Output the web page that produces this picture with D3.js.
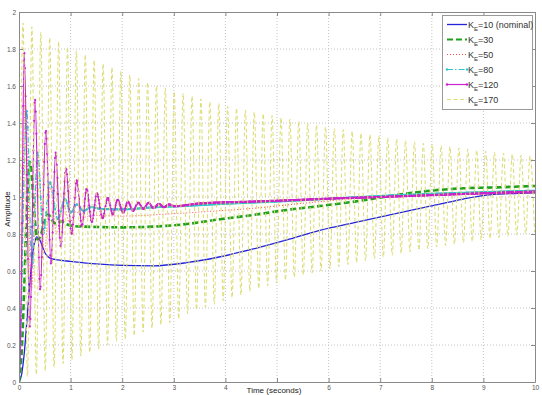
<!DOCTYPE html>
<html lang="en">
  <head>
    <meta charset="utf-8">
    <script src="https://d3js.org/d3.v7.min.js"></script>
    <style>
      body { margin: 0; background: white; }
      text { font-family: "Liberation Sans", Arial, sans-serif; }
    </style>
  </head>
  <body>
    <script>

    // Axis ticks and legend labels
    var timeTicks = [0, 1, 2, 3, 4, 5, 6, 7, 8, 9, 10];
    var ampTicks = [0, 0.2, 0.4, 0.6, 0.8, 1, 1.2, 1.4, 1.6, 1.8, 2];
    var legendLabels = ["=10 (nominal)", "=30", "=50", "=80", "=120", "=170"];

    // K_E = 10 (nominal)
    var k10Time = [0, 0.05, 0.1, 0.15, 0.2, 0.25, 0.3, 0.34, 0.4, 0.5, 0.6, 0.75, 1.0, 1.5, 2.0, 2.6, 3.25, 3.9, 4.54, 5.19, 5.83, 6.5, 7.32, 7.97, 8.61, 9.06, 9.5, 10];
    var k10Amp = [0, 0.04, 0.15, 0.32, 0.5, 0.66, 0.75, 0.785, 0.77, 0.7, 0.67, 0.66, 0.652, 0.638, 0.63, 0.628, 0.645, 0.677, 0.719, 0.768, 0.82, 0.862, 0.912, 0.951, 0.989, 1.01, 1.018, 1.023];

    // K_E = 30
    var k30Time = [0, 0.05, 0.1, 0.15, 0.21, 0.25, 0.3, 0.36, 0.43, 0.5, 0.57, 0.65, 0.73, 0.82, 0.9, 1.1, 1.5, 2.0, 2.6, 3.25, 3.9, 4.54, 5.19, 5.83, 6.5, 7.32, 7.97, 8.61, 9.26, 10];
    var k30Amp = [0, 0.15, 0.5, 0.92, 1.19, 1.1, 0.9, 0.77, 0.8, 0.88, 0.905, 0.87, 0.855, 0.868, 0.855, 0.842, 0.838, 0.836, 0.84, 0.854, 0.88, 0.903, 0.93, 0.951, 0.975, 1.011, 1.034, 1.047, 1.052, 1.06];

    // K_E = 50
    var k50Time = [0, 0.05, 0.12, 0.24, 0.37, 0.49, 0.61, 0.73, 0.86, 0.98, 1.1, 1.25, 1.4, 2.0, 3.0, 4.0, 4.54, 5.19, 5.83, 6.5, 7.3, 8.0, 9.0, 10];
    var k50Amp = [0, 0.5, 1.5, 0.5, 1.22, 0.7, 1.05, 0.8, 0.96, 0.86, 0.92, 0.89, 0.9, 0.897, 0.91, 0.928, 0.939, 0.957, 0.975, 0.99, 1.0, 1.008, 1.015, 1.02];

    // K_E = 80
    var k80Time = [0, 0.04, 0.08, 0.15, 0.25, 0.36, 0.47, 0.6, 0.75, 0.89, 1.0, 1.12, 1.25, 1.4, 1.6, 2.0, 2.6, 3.25, 3.9, 4.54, 5.19, 6.16, 7.0, 8.0, 9.0, 10];
    var k80Amp = [0, 0.3, 0.9, 1.47, 0.62, 1.24, 0.8, 1.08, 0.88, 0.99, 0.915, 0.96, 0.925, 0.945, 0.935, 0.933, 0.944, 0.952, 0.962, 0.97, 0.978, 0.993, 1.005, 1.017, 1.026, 1.034];

    // K_E = 120
    var k120Time = [0, 0.03, 0.06, 0.1, 0.21, 0.31, 0.41, 0.52, 0.62, 0.71, 0.81, 0.91, 1.02, 1.12, 1.22, 1.31, 1.41, 1.51, 1.62, 1.72, 1.82, 1.91, 2.02, 2.11, 2.21, 2.31, 2.41, 2.51, 2.61, 2.71, 2.81, 2.91, 3.0, 3.5, 4.5, 5.2, 6.2, 7.0, 8.0, 9.0, 10];
    var k120Amp = [0, 0.25, 0.9, 1.785, 0.3, 1.53, 0.5, 1.36, 0.64, 1.24, 0.73, 1.155, 0.8, 1.09, 0.84, 1.045, 0.865, 1.02, 0.885, 0.995, 0.905, 0.985, 0.915, 0.975, 0.925, 0.97, 0.935, 0.968, 0.94, 0.963, 0.945, 0.96, 0.95, 0.965, 0.975, 0.982, 0.993, 1.0, 1.01, 1.02, 1.029];

    // K_E = 170 (peaks and troughs of the oscillation)
    var k170Time = [0,
      0.078, 0.164, 0.250, 0.336, 0.423, 0.509, 0.595, 0.681, 0.768, 0.854,
      0.940, 1.026, 1.112, 1.199, 1.285, 1.371, 1.457, 1.543, 1.630, 1.716,
      1.802, 1.888, 1.974, 2.060, 2.147, 2.233, 2.319, 2.405, 2.492, 2.578,
      2.664, 2.750, 2.836, 2.922, 3.009, 3.095, 3.181, 3.267, 3.354, 3.440,
      3.526, 3.612, 3.698, 3.785, 3.871, 3.957, 4.043, 4.129, 4.216, 4.302,
      4.388, 4.474, 4.560, 4.647, 4.733, 4.819, 4.905, 4.991, 5.078, 5.164,
      5.250, 5.336, 5.422, 5.509, 5.595, 5.681, 5.767, 5.853, 5.940, 6.026,
      6.112, 6.198, 6.284, 6.371, 6.457, 6.543, 6.629, 6.715, 6.802, 6.888,
      6.974, 7.060, 7.146, 7.233, 7.319, 7.405, 7.491, 7.577, 7.664, 7.750,
      7.836, 7.922, 8.008, 8.094, 8.181, 8.267, 8.353, 8.439, 8.526, 8.612,
      8.698, 8.784, 8.870, 8.957, 9.043, 9.129, 9.215, 9.301, 9.388, 9.474,
      9.560, 9.646, 9.732, 9.819, 9.905, 9.991];
    var k170Amp = [0,
      1.94, 0.03, 1.92, 0.04, 1.89, 0.06, 1.86, 0.08, 1.84, 0.10,
      1.81, 0.12, 1.79, 0.14, 1.77, 0.16, 1.74, 0.18, 1.72, 0.20,
      1.70, 0.22, 1.68, 0.23, 1.66, 0.25, 1.64, 0.27, 1.62, 0.29,
      1.60, 0.31, 1.59, 0.32, 1.57, 0.34, 1.56, 0.37, 1.545, 0.39,
      1.53, 0.405, 1.515, 0.42, 1.505, 0.44, 1.49, 0.455, 1.48, 0.47,
      1.47, 0.49, 1.46, 0.505, 1.45, 0.52, 1.44, 0.535, 1.43, 0.55,
      1.42, 0.565, 1.41, 0.578, 1.40, 0.59, 1.39, 0.60, 1.38, 0.613,
      1.37, 0.624, 1.364, 0.635, 1.355, 0.645, 1.345, 0.655, 1.337, 0.665,
      1.33, 0.676, 1.32, 0.685, 1.313, 0.695, 1.305, 0.703, 1.298, 0.712,
      1.29, 0.72, 1.284, 0.73, 1.278, 0.738, 1.271, 0.745, 1.265, 0.753,
      1.259, 0.76, 1.253, 0.768, 1.248, 0.775, 1.242, 0.781, 1.237, 0.788,
      1.232, 0.795, 1.227, 0.802, 1.222, 0.81];

    // Styling of each response (marks = spacing in px of time-uniform markers)
    var series = [
      {t: k10Time, a: k10Amp, color: "#2323dc", width: 1.3, dash: null, marks: 0},
      {t: k30Time, a: k30Amp, color: "#1fa01f", width: 2.6, dash: "6,3", marks: 0},
      {t: k50Time, a: k50Amp, color: "#ff4a4a", width: 1, dash: "1,2", marks: 0},
      {t: k80Time, a: k80Amp, color: "#34c3c8", width: 1.2, dash: "6,2,1.5,2", marks: 0.8},
      {t: k120Time, a: k120Amp, color: "#cc22cc", width: 1.2, dash: null, marks: 0.6},
      {t: k170Time, a: k170Amp, color: "#dcdc70", width: 1, dash: "4,2.5", marks: 0}
    ];

    // Sizes
    var svgW = 542, svgH = 395;
    var margin = {left: 19, right: 7, top: 12, bottom: 13};
    var plotW = svgW - margin.left - margin.right;
    var plotH = svgH - margin.top - margin.bottom;

    var xScale = d3.scaleLinear().domain([0, 10]).range([0, plotW]);
    var yScale = d3.scaleLinear().domain([0, 2]).range([plotH, 0]);

    var svg = d3.select("body").append("svg")
                .attr("width", svgW)
                .attr("height", svgH);

    var plot = svg.append("g")
                  .attr("transform", "translate(" + margin.left + "," + margin.top + ")");

    plot.append("clipPath").attr("id", "clip")
        .append("rect").attr("width", plotW).attr("height", plotH);

    // Dotted grid
    var grid = plot.append("g").attr("stroke", "#c4c4c4").attr("stroke-dasharray", "1,2");
    grid.selectAll(".gx").data(timeTicks.slice(1, -1)).enter().append("line")
        .attr("x1", function(d) { return xScale(d); })
        .attr("x2", function(d) { return xScale(d); })
        .attr("y1", 0).attr("y2", plotH);
    grid.selectAll(".gy").data(ampTicks.slice(1, -1)).enter().append("line")
        .attr("y1", function(d) { return yScale(d); })
        .attr("y2", function(d) { return yScale(d); })
        .attr("x1", 0).attr("x2", plotW);

    // Curves
    var line = d3.line().curve(d3.curveMonotoneX);
    var curves = plot.append("g").attr("clip-path", "url(#clip)");

    series.forEach(function(s) {
      var pts = s.t.map(function(t, i) { return [xScale(t), yScale(s.a[i])]; });
      var path = curves.append("path")
                       .attr("d", line(pts))
                       .attr("fill", "none")
                       .attr("stroke", s.color)
                       .attr("stroke-width", s.width)
                       .attr("stroke-dasharray", s.dash);
      if (s.marks > 0) {
        // markers at equal time steps along the drawn curve, like sampled points
        var node = path.node();
        var total = node.getTotalLength();
        var dots = [], nextX = 0;
        for (var l = 0; l <= total; l += 0.4) {
          var p = node.getPointAtLength(l);
          if (p.x >= nextX) {
            dots.push(p);
            nextX += s.marks;
          }
        }
        curves.append("g").selectAll("circle").data(dots).enter().append("circle")
              .attr("cx", function(p) { return p.x; })
              .attr("cy", function(p) { return p.y; })
              .attr("r", 1.1)
              .attr("fill", s.color);
      }
    });

    // Axes (ticks inside, MATLAB style)
    var tickStyle = function(g) {
      g.select(".domain").attr("stroke", "#8a8a8a");
      g.selectAll(".tick line").attr("stroke", "#8a8a8a");
      g.selectAll(".tick text").attr("fill", "#555").style("font-size", "6.5px")
                               .style("font-family", "Liberation Sans, Arial, sans-serif");
    };

    // the "5" label sits under the axis title in the original, so it is left blank
    plot.append("g").attr("transform", "translate(0," + plotH + ")")
        .call(d3.axisBottom(xScale).tickValues(timeTicks)
                .tickFormat(function(d) { return d === 5 ? "" : String(d); })
                .tickSizeInner(-4).tickSizeOuter(0).tickPadding(3))
        .call(tickStyle);
    plot.append("g")
        .call(d3.axisLeft(yScale).tickValues(ampTicks).tickFormat(function(d) { return String(+d.toFixed(1)); })
                .tickSizeInner(-4).tickSizeOuter(0).tickPadding(3))
        .call(tickStyle);
    plot.append("g")
        .call(d3.axisTop(xScale).tickValues(timeTicks).tickFormat("").tickSizeInner(-4).tickSizeOuter(0))
        .call(tickStyle);
    plot.append("g").attr("transform", "translate(" + plotW + ",0)")
        .call(d3.axisRight(yScale).tickValues(ampTicks).tickFormat("").tickSizeInner(-4).tickSizeOuter(0))
        .call(tickStyle);

    // Axis labels
    svg.append("text")
       .attr("x", margin.left + plotW / 2 - 3)
       .attr("y", 393)
       .attr("text-anchor", "middle")
       .attr("fill", "#222")
       .style("font-size", "8px")
       .text("Time (seconds)");
    svg.append("text")
       .attr("transform", "translate(10," + (margin.top + plotH / 2 + 12) + ") rotate(-90)")
       .attr("text-anchor", "middle")
       .attr("fill", "#222")
       .style("font-size", "8px")
       .text("Amplitude");

    // Legend
    var legend = svg.append("g").attr("transform", "translate(442,15)");
    legend.append("rect")
          .attr("x", 0.5).attr("y", 0.5)
          .attr("width", 90).attr("height", 94)
          .attr("fill", "white")
          .attr("stroke", "#999");

    series.forEach(function(s, i) {
      var y = 9.5 + 15 * i;
      legend.append("line")
            .attr("x1", 5).attr("x2", 25).attr("y1", y).attr("y2", y)
            .attr("stroke", s.color)
            .attr("stroke-width", Math.min(s.width, 2))
            .attr("stroke-dasharray", s.dash);
      if (s.marks > 0) {
        [5, 25].forEach(function(x) {
          legend.append("circle").attr("cx", x).attr("cy", y).attr("r", 1.2).attr("fill", s.color);
        });
      }
      var label = legend.append("text")
                        .attr("x", 26).attr("y", y + 3)
                        .attr("fill", "#333")
                        .style("font-size", "9px");
      label.append("tspan").text("K");
      label.append("tspan").attr("dy", 3.5).style("font-size", "6px").text("E");
      label.append("tspan").attr("dy", -3.5).text(legendLabels[i]);
    });

    </script>
  </body>
</html>
